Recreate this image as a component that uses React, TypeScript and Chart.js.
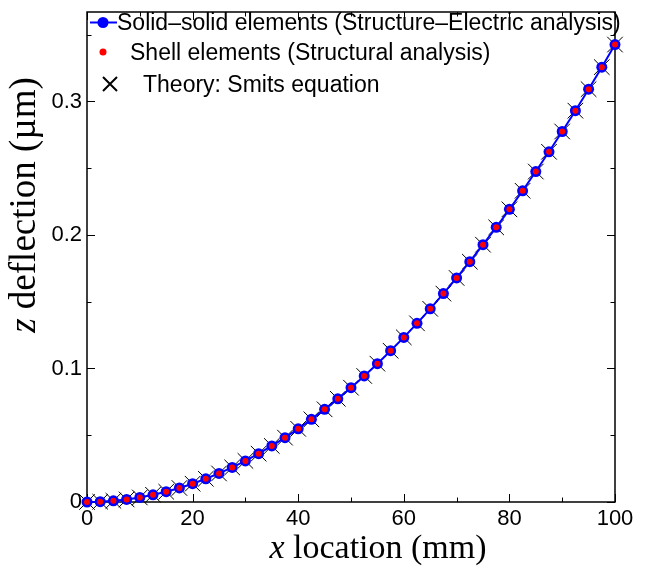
import React, { useEffect, useRef } from "react";
import { Chart, registerables } from "chart.js";

Chart.register(...registerables);

// ---- data ----
const X_LOCATIONS = [
  0, 2.5, 5, 7.5, 10, 12.5, 15, 17.5, 20, 22.5, 25, 27.5, 30, 32.5, 35, 37.5, 40,
  42.5, 45, 47.5, 50, 52.5, 55, 57.5, 60, 62.5, 65, 67.5, 70, 72.5, 75, 77.5, 80,
  82.5, 85, 87.5, 90, 92.5, 95, 97.5, 100,
];
const SOLID_SOLID = [
  0, 0.0002, 0.0009, 0.0019, 0.0034, 0.0054, 0.0077, 0.0105, 0.0137, 0.0174,
  0.0214, 0.0259, 0.0308, 0.0362, 0.042, 0.0482, 0.0548, 0.0619, 0.0694, 0.0773,
  0.0856, 0.0944, 0.1036, 0.1133, 0.1233, 0.1338, 0.1447, 0.1561, 0.1678, 0.18,
  0.1927, 0.2057, 0.2192, 0.2331, 0.2475, 0.2623, 0.2775, 0.2931, 0.3092, 0.3257,
  0.3426,
];
const SHELL = [
  0, 0.0002, 0.0009, 0.0019, 0.0034, 0.0054, 0.0077, 0.0105, 0.0137, 0.0174,
  0.0214, 0.0259, 0.0308, 0.0362, 0.042, 0.0482, 0.0548, 0.0619, 0.0694, 0.0773,
  0.0856, 0.0944, 0.1036, 0.1133, 0.1233, 0.1338, 0.1447, 0.1561, 0.1678, 0.18,
  0.1927, 0.2057, 0.2192, 0.2331, 0.2475, 0.2623, 0.2775, 0.2931, 0.3092, 0.3257,
  0.3426,
];
const THEORY = [
  0, 0.0002, 0.0009, 0.0019, 0.0034, 0.0054, 0.0077, 0.0105, 0.0137, 0.0174,
  0.0214, 0.0259, 0.0308, 0.0362, 0.042, 0.0482, 0.0548, 0.0619, 0.0694, 0.0773,
  0.0856, 0.0944, 0.1036, 0.1133, 0.1233, 0.1338, 0.1447, 0.1561, 0.1678, 0.18,
  0.1927, 0.2057, 0.2192, 0.2331, 0.2475, 0.2623, 0.2775, 0.2931, 0.3092, 0.3257,
  0.3426,
];

const SERIES_LABELS = [
  "Solid\u2013solid elements (Structure\u2013Electric analysis)",
  "Shell elements (Structural analysis)",
  "Theory: Smits equation",
];

const X_TICKS = [0, 20, 40, 60, 80, 100];
const X_TICK_LABELS = ["0", "20", "40", "60", "80", "100"];
const X_MINOR = [10, 30, 50, 70, 90];
const Y_TICKS = [0, 0.1, 0.2, 0.3];
const Y_TICK_LABELS = ["0", "0.1", "0.2", "0.3"];
const Y_MINOR = [0.05, 0.15, 0.25, 0.35];
const X_RANGE = [0, 100];
const Y_RANGE = [0, 0.367];

const SANS = "'Liberation Sans', Arial, Helvetica, sans-serif";
const SERIF = "'Liberation Serif', 'Times New Roman', Times, serif";

const framePlugin = {
  id: "frame",
  beforeDatasetsDraw(chart: any) {
    const { ctx, chartArea } = chart;
    const { left, right, top, bottom } = chartArea;
    const xs = chart.scales.x;
    const ys = chart.scales.y;
    ctx.save();
    ctx.strokeStyle = "#000";
    ctx.lineWidth = 1.5;
    ctx.strokeRect(left, top, right - left, bottom - top);
    ctx.lineWidth = 1;
    const major = 8;
    const minor = 4.5;
    const vt = (v: number, len: number) => {
      const px = Math.round(xs.getPixelForValue(v)) + 0.5;
      ctx.beginPath();
      ctx.moveTo(px, bottom);
      ctx.lineTo(px, bottom - len);
      ctx.moveTo(px, top);
      ctx.lineTo(px, top + len);
      ctx.stroke();
    };
    const ht = (v: number, len: number) => {
      const py = Math.round(ys.getPixelForValue(v)) + 0.5;
      ctx.beginPath();
      ctx.moveTo(left, py);
      ctx.lineTo(left + len, py);
      ctx.moveTo(right, py);
      ctx.lineTo(right - len, py);
      ctx.stroke();
    };
    X_TICKS.forEach((v) => vt(v, major));
    X_MINOR.forEach((v) => vt(v, minor));
    Y_TICKS.forEach((v) => ht(v, major));
    Y_MINOR.forEach((v) => ht(v, minor));
    ctx.restore();
  },
  afterDraw(chart: any) {
    const { ctx } = chart;
    ctx.save();
    ctx.fillStyle = "#000";
    // x axis title
    ctx.textBaseline = "alphabetic";
    ctx.textAlign = "left";
    const fs = 34;
    ctx.font = `italic ${fs}px ${SERIF}`;
    const wx = ctx.measureText("x").width;
    ctx.font = `${fs}px ${SERIF}`;
    const wr = ctx.measureText(" location (mm)").width;
    const sx = 378 - (wx + wr) / 2;
    ctx.font = `italic ${fs}px ${SERIF}`;
    ctx.fillText("x", sx, 558);
    ctx.font = `${fs}px ${SERIF}`;
    ctx.fillText(" location (mm)", sx + wx, 558);

    // y axis title
    const fy = 37;
    ctx.translate(35, 205);
    ctx.rotate(-Math.PI / 2);
    ctx.font = `italic ${fy}px ${SERIF}`;
    const wz = ctx.measureText("z").width;
    ctx.font = `${fy}px ${SERIF}`;
    const wd = ctx.measureText(" deflection (\u00b5m)").width;
    const sy = -(wz + wd) / 2;
    ctx.font = `italic ${fy}px ${SERIF}`;
    ctx.fillText("z", sy, 0);
    ctx.font = `${fy}px ${SERIF}`;
    ctx.fillText(" deflection (\u00b5m)", sy + wz, 0);
    ctx.restore();

    // legend
    ctx.save();
    ctx.font = `23px ${SANS}`;
    ctx.fillStyle = "#000";
    ctx.textBaseline = "alphabetic";
    ctx.textAlign = "left";
    // entry 1
    ctx.strokeStyle = "#0000ff";
    ctx.lineWidth = 2;
    ctx.beginPath();
    ctx.moveTo(90, 22.5);
    ctx.lineTo(117, 22.5);
    ctx.stroke();
    ctx.fillStyle = "#0000ff";
    ctx.beginPath();
    ctx.arc(103, 22.5, 5.5, 0, Math.PI * 2);
    ctx.fill();
    ctx.fillStyle = "#000";
    ctx.fillText(SERIES_LABELS[0], 117, 30);
    // entry 2
    ctx.fillStyle = "#ff0000";
    ctx.beginPath();
    ctx.arc(103, 52, 3.5, 0, Math.PI * 2);
    ctx.fill();
    ctx.fillStyle = "#000";
    ctx.fillText(SERIES_LABELS[1], 130, 60);
    // entry 3
    ctx.strokeStyle = "#000";
    ctx.lineWidth = 2;
    ctx.beginPath();
    ctx.moveTo(103, 77);
    ctx.lineTo(117, 91);
    ctx.moveTo(117, 77);
    ctx.lineTo(103, 91);
    ctx.stroke();
    ctx.fillText(SERIES_LABELS[2], 143, 92);
    ctx.restore();
  },
};

export default function App() {
  const ref = useRef<HTMLCanvasElement | null>(null);
  useEffect(() => {
    if (!ref.current) return;
    const toPts = (ys: number[]) => X_LOCATIONS.map((x, i) => ({ x, y: ys[i] }));
    const chart = new Chart(ref.current, {
      type: "line",
      data: {
        datasets: [
          {
            label: SERIES_LABELS[0],
            data: toPts(SOLID_SOLID),
            borderColor: "#0000ff",
            backgroundColor: "#0000ff",
            borderWidth: 2,
            pointRadius: 5.5,
            pointBorderWidth: 0,
            pointBackgroundColor: "#0000ff",
            showLine: true,
            clip: false,
            order: 2,
          },
          {
            label: SERIES_LABELS[1],
            data: toPts(SHELL),
            borderColor: "#ff0000",
            backgroundColor: "#ff0000",
            showLine: false,
            pointRadius: 3,
            pointBorderWidth: 0,
            pointBackgroundColor: "#ff0000",
            clip: false,
            order: 1,
          },
          {
            label: SERIES_LABELS[2],
            data: toPts(THEORY),
            borderColor: "#000000",
            backgroundColor: "#000000",
            showLine: false,
            pointStyle: "crossRot",
            pointRadius: 11,
            pointBorderWidth: 1,
            pointBorderColor: "#000000",
            clip: false,
            order: 3,
          },
        ],
      },
      options: {
        animation: false,
        responsive: false,
        events: [],
        layout: { padding: { left: 0, right: 43, top: 4, bottom: 0 } },
        plugins: {
          legend: { display: false },
          tooltip: { enabled: false },
          title: { display: false },
        },
        scales: {
          x: {
            type: "linear",
            min: X_RANGE[0],
            max: X_RANGE[1],
            grid: { display: false, drawTicks: false },
            border: { display: false },
            afterBuildTicks: (s: any) => {
              s.ticks = X_TICKS.map((v) => ({ value: v }));
            },
            afterFit: (s: any) => {
              s.height = 70;
              s.paddingLeft = 0;
              s.paddingRight = 0;
              s.paddingTop = 0;
              s.paddingBottom = 0;
            },
            ticks: {
              color: "#000",
              font: { family: SANS, size: 22 },
              padding: 4,
              maxRotation: 0,
              autoSkip: false,
              callback: (v: any) => {
                const i = X_TICKS.indexOf(Number(v));
                return i >= 0 ? X_TICK_LABELS[i] : "";
              },
            },
          },
          y: {
            type: "linear",
            min: Y_RANGE[0],
            max: Y_RANGE[1],
            grid: { display: false, drawTicks: false },
            border: { display: false },
            afterBuildTicks: (s: any) => {
              s.ticks = Y_TICKS.map((v) => ({ value: v }));
            },
            afterFit: (s: any) => {
              s.width = 87;
              s.paddingLeft = 0;
              s.paddingRight = 0;
              s.paddingTop = 0;
              s.paddingBottom = 0;
            },
            ticks: {
              color: "#000",
              font: { family: SANS, size: 22 },
              padding: 5,
              autoSkip: false,
              callback: (v: any) => {
                const i = Y_TICKS.findIndex((t) => Math.abs(t - Number(v)) < 1e-9);
                return i >= 0 ? Y_TICK_LABELS[i] : "";
              },
            },
          },
        },
      },
      plugins: [framePlugin],
    } as any);
    return () => chart.destroy();
  }, []);
  return (
    <div style={{ position: "absolute", left: 0, top: 0, width: 658, height: 572, background: "#fff" }}>
      <canvas ref={ref} width={658} height={572} style={{ display: "block", width: 658, height: 572 }} />
    </div>
  );
}
